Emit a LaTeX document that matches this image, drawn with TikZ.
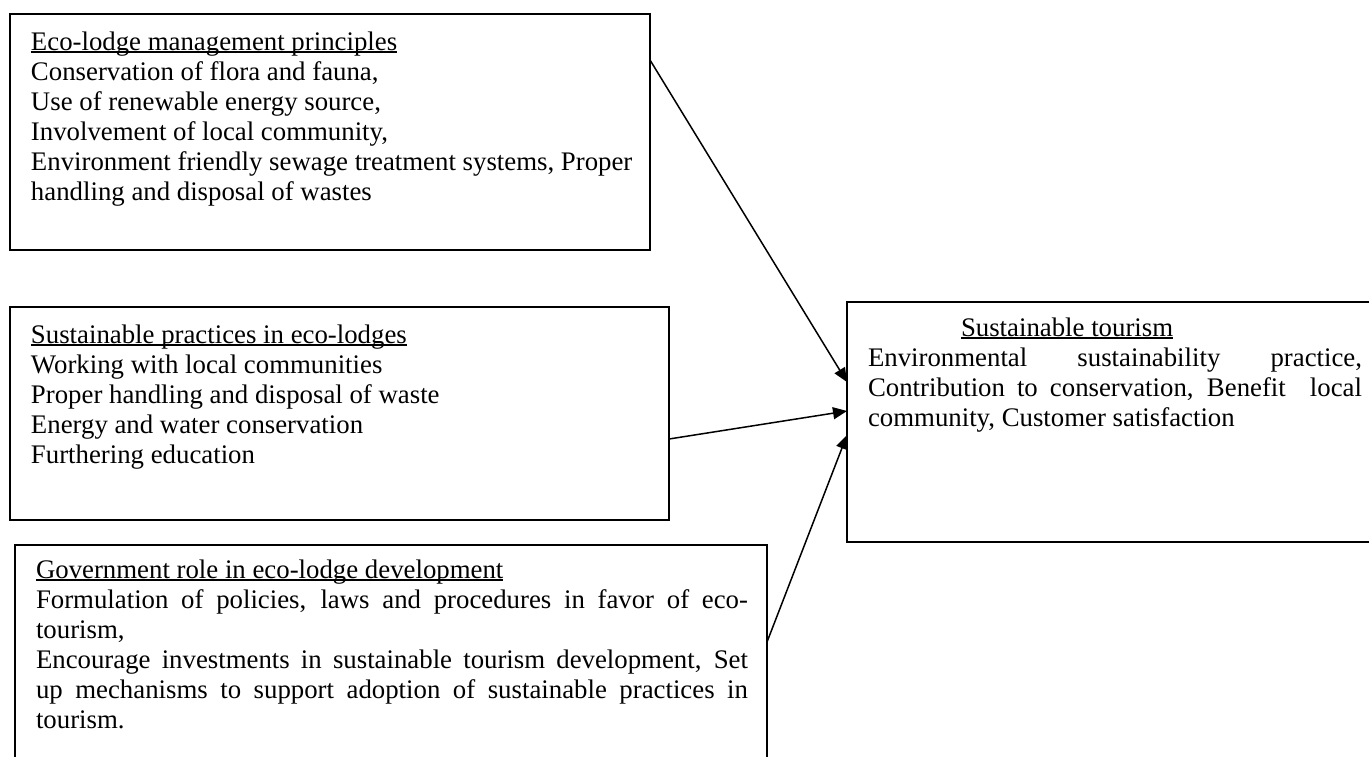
\documentclass[tikz,border=0pt]{standalone}
\usepackage{fontspec}
\setmainfont{Liberation Serif}
\usetikzlibrary{arrows.meta}
\newcommand\wul[1]{\leavevmode\setbox0\hbox{#1}\rlap{\rule[-1.4pt]{\wd0}{0.8pt}}\box0}
\newcommand\jl[2]{\makebox[#1][s]{#2}}
\tikzset{
  box/.style={draw, line width=0.8pt, inner sep=0pt, outer sep=0pt, anchor=north west},
  txt/.style={inner sep=0pt, outer sep=0pt, anchor=base west, font=\fontsize{13.4pt}{15pt}\selectfont},
  arr/.style={line width=0.75pt, -{Triangle[length=7pt,width=6pt]}}
}
\begin{document}
\begin{tikzpicture}[x=0.5pt,y=-0.5pt]
\useasboundingbox (0,0) rectangle (1369,756);
\clip (0,0) rectangle (1369,756);
\node[box, minimum width=320pt, minimum height=118pt] (b1) at (10,14) {};
\node[box, minimum width=329.5pt, minimum height=106.5pt] (b2) at (10,307) {};
\node[box, minimum width=376pt, minimum height=108pt] (b3) at (15,545) {};
\node[box, minimum width=270pt, minimum height=120pt] (b4) at (847,302) {};

\node[txt] (t1) at (31,50) {\parbox[t]{320pt}{\fontsize{13.4pt}{15pt}\selectfont
\wul{Eco-lodge management principles}\\
Conservation of flora and fauna,\\
Use of renewable energy source,\\
Involvement of local community,\\
Environment friendly sewage treatment systems, Proper\\
handling and disposal of wastes}};

\node[txt] (t2) at (31,343) {\parbox[t]{320pt}{\fontsize{13.4pt}{15pt}\selectfont
\wul{Sustainable practices in eco-lodges}\\
Working with local communities\\
Proper handling and disposal of waste\\
Energy and water conservation\\
Furthering education}};

\node[txt] (t3) at (36,578) {\parbox[t]{356pt}{\fontsize{13.4pt}{15pt}\selectfont
\wul{Government role in eco-lodge development}\\
\jl{356pt}{Formulation of policies, laws and procedures in favor of eco-}\\
tourism,\\
\jl{356pt}{Encourage investments in sustainable tourism development, Set}\\
\jl{356pt}{up mechanisms to support adoption of sustainable practices in}\\
tourism.}};

\node[txt] (t4) at (868,336) {\parbox[t]{247pt}{\fontsize{13.4pt}{15pt}\selectfont
\hspace*{46.5pt}\wul{Sustainable tourism}\\
\jl{247pt}{Environmental sustainability practice,}\\
\jl{247pt}{Contribution to conservation, Benefit\ \ local}\\
community, Customer satisfaction}};

\draw[arr] ([yshift=-23pt]b1.north east) -- ([yshift=20pt]b4.west);
\draw[arr] ([yshift=-12.75pt]b2.east) -- ([yshift=5.5pt]b4.west);
\draw[arr] ([yshift=-48.5pt]b3.north east) -- ([yshift=-6.5pt]b4.west);
\end{tikzpicture}
\end{document}
